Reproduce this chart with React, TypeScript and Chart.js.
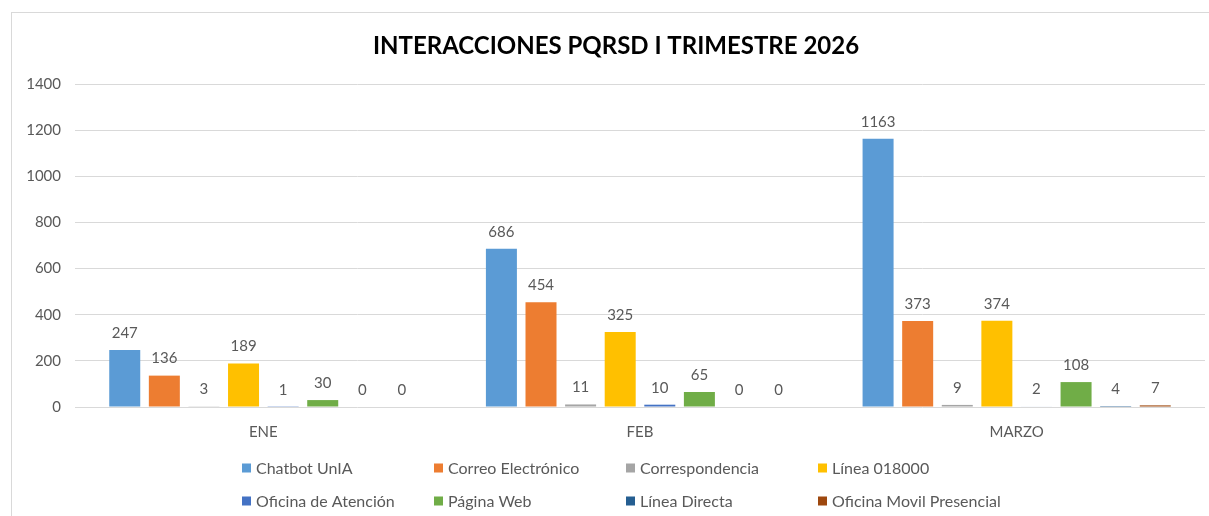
import React, { useEffect, useRef } from "react";
import { Chart, registerables } from "chart.js";

Chart.register(...registerables);

const CATEGORIES = ["ENE", "FEB", "MARZO"];
const SERIES_NAMES = [
  "Chatbot UnIA",
  "Correo Electrónico",
  "Correspondencia",
  "Línea 018000",
  "Oficina de Atención",
  "Página Web",
  "Línea Directa",
  "Oficina Movil Presencial",
];
const CHATBOT_UNIA = [247, 686, 1163];
const CORREO_ELECTRONICO = [136, 454, 373];
const CORRESPONDENCIA = [3, 11, 9];
const LINEA_018000 = [189, 325, 374];
const OFICINA_ATENCION = [1, 10, 2];
const PAGINA_WEB = [30, 65, 108];
const LINEA_DIRECTA = [0, 0, 4];
const OFICINA_MOVIL = [0, 0, 7];
const SERIES_VALUES = [
  CHATBOT_UNIA,
  CORREO_ELECTRONICO,
  CORRESPONDENCIA,
  LINEA_018000,
  OFICINA_ATENCION,
  PAGINA_WEB,
  LINEA_DIRECTA,
  OFICINA_MOVIL,
];
const COLORS = [
  "#5B9BD5",
  "#ED7D31",
  "#A5A5A5",
  "#FFC000",
  "#4472C4",
  "#70AD47",
  "#255E91",
  "#9E480E",
];
const Y_MIN = 0;
const Y_MAX = 1400;
const Y_STEP = 200;
const TITLE = "INTERACCIONES PQRSD I TRIMESTRE 2026";

const FONT = "Lato, 'Open Sans', sans-serif";
const TEXT_COLOR = "#595959";

const framePlugin = {
  id: "frame",
  beforeDraw(chart: any) {
    const ctx = chart.ctx;
    ctx.save();
    ctx.fillStyle = "#ffffff";
    ctx.fillRect(0, 0, chart.width, chart.height);
    ctx.strokeStyle = "#d9d9d9";
    ctx.lineWidth = 1;
    ctx.strokeRect(11.5, 12.5, chart.width + 10, chart.height + 20);
    ctx.restore();
  },
};

const valueLabelPlugin = {
  id: "valueLabels",
  afterDatasetsDraw(chart: any) {
    const ctx = chart.ctx;
    ctx.save();
    ctx.font = `15px ${FONT}`;
    ctx.fillStyle = TEXT_COLOR;
    ctx.textAlign = "center";
    ctx.textBaseline = "middle";
    chart.data.datasets.forEach((ds: any, i: number) => {
      const meta = chart.getDatasetMeta(i);
      meta.data.forEach((bar: any, j: number) => {
        ctx.fillText(String(ds.data[j]), bar.x, bar.y - 17);
      });
    });
    ctx.restore();
  },
};

const legendPlugin = {
  id: "gridLegend",
  afterDraw(chart: any) {
    const ctx = chart.ctx;
    ctx.save();
    ctx.font = `16px ${FONT}`;
    ctx.textBaseline = "middle";
    ctx.textAlign = "left";
    const startX = 242;
    const colStep = 192;
    const rowYs = [468, 501];
    chart.data.datasets.forEach((ds: any, i: number) => {
      const col = i % 4;
      const row = Math.floor(i / 4);
      const x = startX + col * colStep;
      const y = rowYs[row];
      ctx.fillStyle = ds.backgroundColor;
      ctx.fillRect(x, y - 4.5, 9, 9);
      ctx.fillStyle = TEXT_COLOR;
      ctx.fillText(ds.label, x + 14, y + 0.5);
    });
    ctx.restore();
  },
};

export default function App() {
  const canvasRef = useRef<HTMLCanvasElement | null>(null);

  useEffect(() => {
    if (!canvasRef.current) return;
    const chart = new Chart(canvasRef.current, {
      type: "bar",
      data: {
        labels: CATEGORIES,
        datasets: SERIES_NAMES.map((name, i) => ({
          label: name,
          data: SERIES_VALUES[i],
          backgroundColor: COLORS[i],
          borderWidth: 0,
          categoryPercentage: 0.841,
          barPercentage: 0.783,
        })),
      },
      options: {
        animation: false,
        responsive: false,
        maintainAspectRatio: false,
        layout: { padding: { left: 27, right: 4, top: 0, bottom: 60 } },
        plugins: {
          legend: { display: false },
          tooltip: { enabled: false },
          title: {
            display: true,
            text: TITLE,
            color: "#000000",
            font: { family: FONT, size: 24, weight: "bold", lineHeight: 1.2 },
            padding: { top: 32, bottom: 23.2 },
          },
        },
        scales: {
          x: {
            grid: { display: false },
            border: { display: false },
            ticks: {
              color: TEXT_COLOR,
              font: { family: FONT, size: 15 },
              padding: 8,
            },
            afterFit: (s: any) => {
              s.height = 49;
            },
          },
          y: {
            min: Y_MIN,
            max: Y_MAX,
            grid: { color: "#d9d9d9", drawTicks: false },
            border: { display: false },
            ticks: {
              stepSize: Y_STEP,
              color: TEXT_COLOR,
              font: { family: FONT, size: 15 },
              padding: 14,
              callback: (v: any) => String(v),
            },
            afterFit: (s: any) => {
              s.width = 48;
            },
          },
        },
      },
      plugins: [framePlugin, valueLabelPlugin, legendPlugin],
    });
    return () => chart.destroy();
  }, []);

  return (
    <div style={{ position: "fixed", left: 0, top: 0, width: 1209, height: 516 }}>
      <canvas ref={canvasRef} width={1209} height={516} style={{ display: "block" }} />
    </div>
  );
}
